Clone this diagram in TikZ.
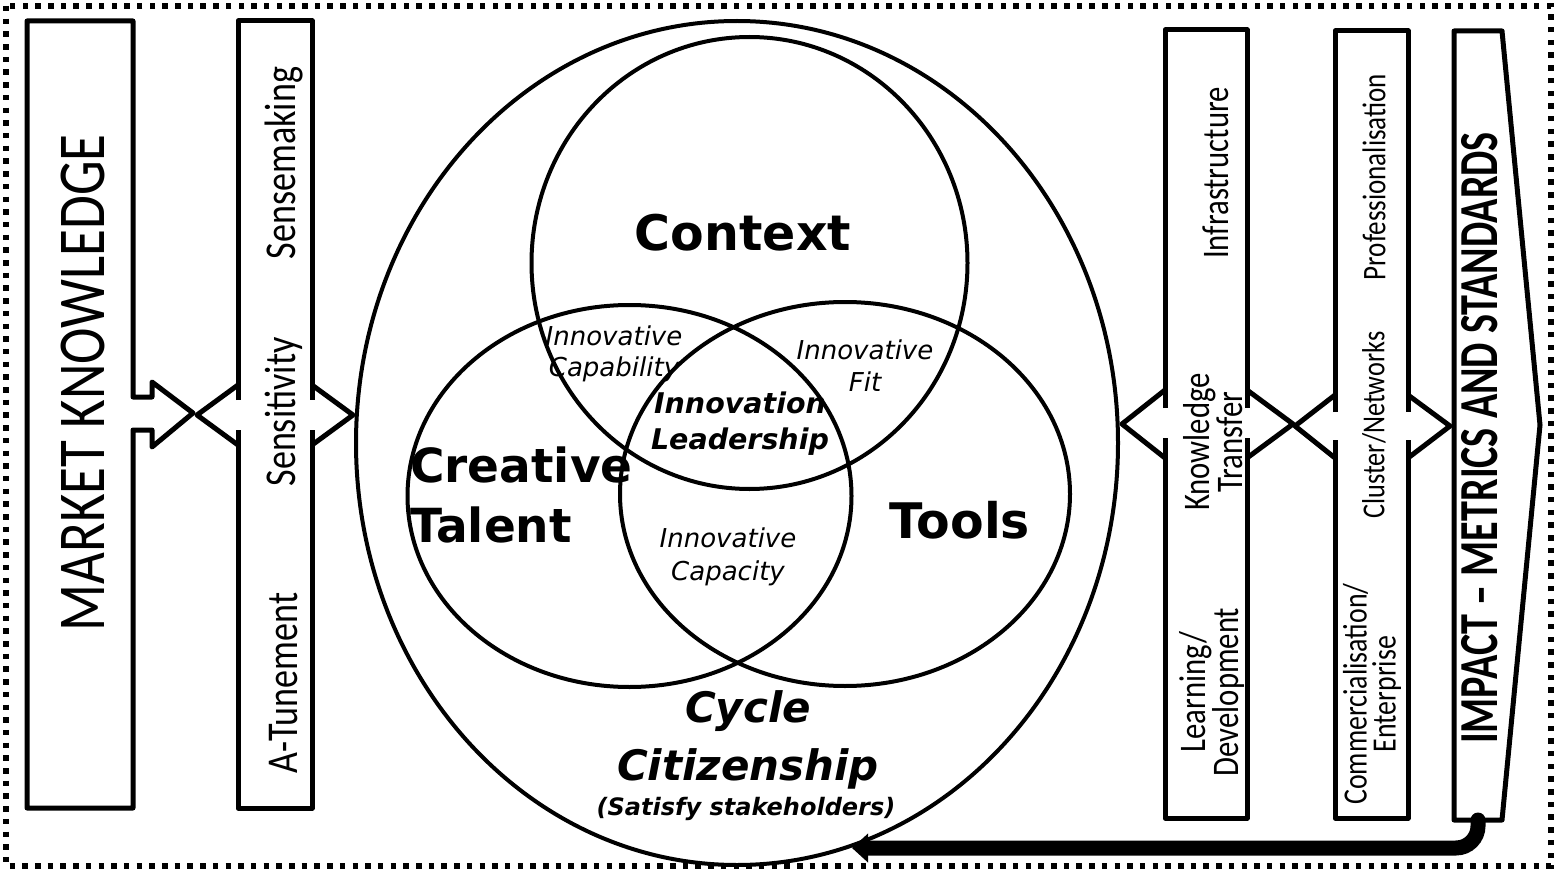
\documentclass[tikz,border=0pt]{standalone}
\usepackage{fontspec}
\usetikzlibrary{arrows.meta}
\newfontfamily\condfont[FakeStretch=0.82]{Carlito}
\newfontfamily\condboldfont[FakeStretch=0.73]{Carlito}
\newfontfamily\vennfont{DejaVu Sans}
\newcommand{\fsz}[2]{\fontsize{#1}{#2}\selectfont}

\begin{document}
\begin{tikzpicture}[x=1pt,y=-1pt,
  frame/.style={line width=5.5pt, dash pattern=on 5.5pt off 7.2pt},
  panel/.style={line width=5pt, line join=round},
  venncircle/.style={line width=4pt},
  sidetext/.style={rotate=90, inner sep=0pt, align=center},
  venntext/.style={inner sep=0pt, align=center},
  returnarrow/.style={line width=15pt, rounded corners=22pt, line cap=round,
    -{Triangle[length=16pt,width=28pt]}}
]
\useasboundingbox (0,0) rectangle (1556,872);

% dotted outer frame
\draw[frame] (6,6) rectangle (1551,866);

% --- left column: market knowledge panel with its arrow
\draw[panel] (27,21) -- (133,21) -- (133,397) -- (152,397) -- (152,382)
  -- (193,413) -- (152,447) -- (152,430) -- (133,430) -- (133,808)
  -- (27,808) -- cycle;
\node[sidetext, font=\condfont\fsz{67}{67}] (market) at (83,383) {MARKET KNOWLEDGE};

% --- sensing panel with a head on each side
\draw[panel] (238,400) |- (312,21) -- (312,400);
\draw[panel] (312,430) |- (238,808) -- (238,430);
\draw[panel] (238,385) -- (197,415) -- (238,445);
\draw[panel] (312,385) -- (353,415) -- (312,445);
\node[sidetext, font=\condfont\fsz{44}{44}] (sense) at (284,163) {Sensemaking};
\node[sidetext, font=\condfont\fsz{44}{44}] (sensit) at (284,412) {Sensitivity};
\node[sidetext, font=\condfont\fsz{44}{44}] (atune) at (284,683) {A-Tunement};

% --- Venn diagram
\draw[venncircle] (737,443) ellipse [x radius=381, y radius=422];
\draw[venncircle] (749.5,263) ellipse [x radius=218, y radius=226];
\draw[venncircle] (629.5,496) ellipse [x radius=222, y radius=191];
\draw[venncircle] (845,494) ellipse [x radius=225, y radius=192];

\node[venntext, font=\vennfont\bfseries\fsz{49}{55}] (context) at (743,233) {Context};
\node[venntext, anchor=west, align=left, font=\vennfont\bfseries\fsz{47}{60}]
  (talent) at (410,495) {Creative\\Talent};
\node[venntext, font=\vennfont\bfseries\fsz{49}{55}] (tools) at (960,520) {Tools};
\node[venntext, font=\vennfont\bfseries\itshape\fsz{28.5}{36}] (leader) at (740,424)
  {Innovation\\Leadership};
\node[venntext, font=\vennfont\itshape\fsz{26}{31}] (capab) at (614,354)
  {Innovative\\Capability};
\node[venntext, font=\vennfont\itshape\fsz{26}{32}] (fit) at (865,366)
  {Innovative\\Fit};
\node[venntext, font=\vennfont\itshape\fsz{26}{33}] (capac) at (728,557)
  {Innovative\\Capacity};
\node[venntext, font=\vennfont\bfseries\itshape\fsz{42}{58}] (cycle) at (748,740)
  {Cycle\\Citizenship};
\node[venntext, font=\vennfont\bfseries\itshape\fsz{24}{28}] (stake) at (746,809)
  {(Satisfy stakeholders)};

% --- knowledge transfer panel
\draw[panel] (1165,408) |- (1247,30) -- (1247,408);
\draw[panel] (1247,438) |- (1165,818) -- (1165,438);
\draw[panel] (1165,390) -- (1122,424) -- (1165,458);
\draw[panel] (1247,390) -- (1293,424) -- (1247,458);
\node[sidetext, font=\condfont\fsz{37.5}{30}] (infra) at (1216,173) {Infrastructure};
\node[sidetext, font=\condfont\fsz{37.5}{30}] (ktrans) at (1213,442) {Knowledge\\Transfer};
\node[sidetext, font=\condfont\fsz{37.5}{30}] (learn) at (1212,692) {Learning/\\Development};

% --- cluster panel
\draw[panel] (1335,412) |- (1408,31) -- (1408,412);
\draw[panel] (1408,440) |- (1335,818) -- (1335,440);
\draw[panel] (1335,395) -- (1295,426) -- (1335,458);
\draw[panel] (1408,395) -- (1450,426) -- (1408,458);
\node[sidetext, font=\condfont\fsz{33}{28}] (prof) at (1374,177) {Professionalisation};
\node[sidetext, font=\condfont\fsz{32}{28}] (cluster) at (1374,425) {Cluster/Networks};
\node[sidetext, font=\condfont\fsz{34}{29}] (commerce) at (1372,694) {Commercialisation/\\Enterprise};

% --- impact panel
\draw[panel] (1454,31) -- (1502,31) -- (1540,425) -- (1502,820) -- (1454,820) -- cycle;
\node[sidetext, font=\condboldfont\bfseries\fsz{55}{55}] (impact) at (1480,438)
  {IMPACT – METRICS AND STANDARDS};

% --- feedback arrow back to the cycle
\coordinate (impactbase) at (1478,820);
\coordinate (cycleend) at (852,848);
\draw[returnarrow] (impactbase) |- (cycleend);
\end{tikzpicture}
\end{document}
